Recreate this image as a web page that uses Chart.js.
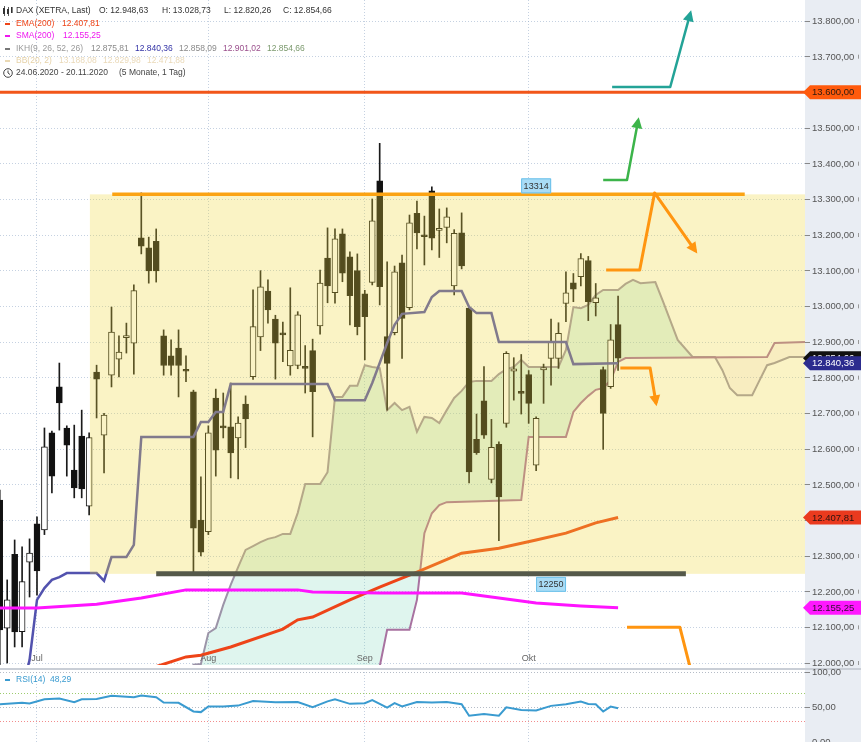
<!DOCTYPE html>
<html>
<head>
<meta charset="utf-8">
<script src="https://cdn.jsdelivr.net/npm/chart.js@4/dist/chart.umd.min.js"></script>
<style>
html, body { margin: 0; padding: 0; background: #fff; }
#wrap { position: relative; width: 861px; height: 742px; overflow: hidden; }
#main { position: absolute; left: 0; top: 0; }
#rsi { position: absolute; left: 0; top: 668px; }
</style>
</head>
<body>
<div id="wrap">
  <canvas id="main" width="861" height="668"></canvas>
  <canvas id="rsi" width="861" height="74"></canvas>
</div>
<script>
// DAX daily candles, 24.06.2020 (index 0) .. 19.10.2020 (index 83)
var openP  = [12457,12098,12305,12088,12283,12390,12373,12645,12774,12659,12541,12636,12440,12816,12639,12807,12852,12912,12897,13192,13164,13182,12917,12861,12883,12822,12760,12401,12368,12743,12665,12662,12631,12726,12803,12914,13043,12964,12925,12833,12834,12830,12876,12945,13135,13038,13203,13139,13100,13035,13067,13352,12915,12926,13122,12996,13261,13200,13324,13213,13221,13057,13206,12995,12627,12735,12515,12613,12672,12818,12760,12809,12555,12822,12854,12854,13008,13066,13083,13128,13010,12823,12775,12948.63];
var highP  = [12485,12233,12345,12326,12348,12410,12659,12650,12841,12665,12667,12709,12645,12835,12700,12998,12917,12953,13060,13318,13194,13217,12934,12906,12934,12861,12765,12522,12665,12768,12757,12785,12690,12749,13046,13100,13074,12975,12956,13052,12985,12890,12908,13102,13220,13217,13217,13153,13147,13045,13301,13457,13125,13113,13144,13256,13295,13253,13335,13273,13276,13215,13262,13000,12698,12831,12683,12620,12873,12856,12865,12820,12690,12838,12964,12954,13097,13092,13148,13140,13064,12830,12949,13028.73];
var lowP   = [11994,12000,12045,12045,12185,12190,12360,12477,12653,12524,12463,12463,12415,12687,12533,12774,12802,12869,12810,13147,13065,13068,12807,12807,12746,12789,12256,12300,12360,12524,12631,12519,12516,12604,12795,12876,12953,12796,12845,12807,12825,12757,12634,12922,13010,13009,13069,12948,12920,12850,13060,13004,12709,12920,12854,12990,13161,13116,13158,13137,13178,13032,13105,12505,12585,12630,12505,12343,12661,12737,12698,12672,12539,12728,12779,12826,12957,13013,13057,12960,12973,12599,12770,12820.26];
var closeP = [12093,12177,12087,12228,12308,12258,12606,12524,12729,12611,12491,12488,12632,12796,12695,12928,12872,12918,13044,13169,13099,13099,12834,12834,12834,12818,12378,12311,12645,12597,12659,12589,12673,12684,12943,13055,12990,12897,12920,12877,12976,12826,12761,13065,13057,13189,13093,13030,12943,12971,13240,13055,12840,13097,12966,13234,13206,13195,13191,13218,13251,13205,13113,12536,12590,12639,12605,12466,12868,12825,12756,12728,12686,12828,12901,12924,13038,13048,13134,13013,13024,12700,12906,12854.66];

var monthLabels = ['Jul', 'Aug', 'Sep', 'Okt'];
var monthIdx = [5, 28, 49, 71];
var priceTicks = [12000,12100,12200,12300,12400,12500,12600,12700,12800,12900,13000,13100,13200,13300,13400,13500,13600,13700,13800];

// indicator vertices: [candle index, value]
var ema200 = [[21,11990],[25,12017],[27,12022],[31,12045],[38,12095],[40,12121],[42,12129],[47,12177],[51,12213],[56,12255],[62,12308],[67,12322],[72,12345],[76,12364],[80,12393],[83,12407.81]];
var sma200 = [[0,12154],[5,12154],[13,12165],[19,12182],[25,12205],[40,12205],[42,12199],[51,12196],[62,12196],[67,12182],[72,12168],[78,12160],[83,12155.25]];
var kijun = [[3,11925],[4,12008],[5,12177],[6,12210],[7,12233],[8,12241],[9,12252],[13,12252],[14,12230],[15,12297],[17,12297],[18,12331],[19,12634],[26,12634],[27,12676],[28,12676],[29,12704],[30,12704],[31,12782],[44,12782],[45,12737],[49,12737],[50,12785],[51,12841],[52,12897],[53,12948],[54,12979],[57,12984],[58,13026],[59,13043],[62,13043],[63,12998],[64,12981],[66,12981],[67,12900],[76,12900],[77,12838],[83,12840.36]];
var senkouA = [[25,11960],[26,11995],[27,11997],[28,12084],[29,12098],[30,12163],[31,12219],[32,12269],[33,12317],[34,12328],[35,12339],[36,12348],[37,12353],[38,12362],[39,12362],[40,12421],[41,12502],[43,12502],[44,12535],[45,12746],[46,12746],[47,12777],[48,12777],[49,12835],[50,12830],[51,12827],[52,12709],[53,12729],[54,12709],[55,12718],[56,12648],[57,12690],[58,12687],[59,12673],[60,12709],[61,12743],[62,12763],[63,12788],[64,12791],[66,12791],[67,12810],[68,12824],[69,12830],[70,12850],[71,12830],[75,12830],[76,12878],[77,12998],[78,12995],[79,13004],[80,13032],[81,13046],[83,13046],[84,13063],[85,13074],[86,13065],[88,13068],[89,13015],[91,12906],[93,12858],[96,12858],[97,12821],[98,12771],[99,12751],[101,12751],[102,12793],[103,12835],[104,12841],[106,12858],[109,12858.09]];
var senkouB = [[25,11700],[50,11700],[51,11990],[52,12093],[55,12093],[56,12177],[57,12364],[58,12420],[59,12443],[60,12451],[70,12457],[71,12634],[76,12634],[77,12704],[78,12729],[79,12749],[80,12766],[81,12771],[82,12793],[83,12844],[84,12855],[103,12858],[104,12897],[109,12901.02]];
var tenkanLast = 12875.81;
var bbLast = [13188.08, 12829.98, 12471.88];
var rsi14 = [[0,54],[3,56],[4,55],[6,61],[8,62],[10,57],[11,61],[13,61.5],[15,66],[18,64],[19,66.5],[21,64],[22,56.5],[24,56],[26,43.6],[27,42.7],[28,50.8],[30,50.8],[32,52],[34,58.6],[37,56.7],[40,57],[42,49.6],[44,58],[45,61],[47,54.5],[49,55.4],[50,60],[52,49],[53,55.5],[54,50.8],[56,57],[58,56.5],[60,57],[62,54],[63,37.6],[65,40],[67,37.6],[68,49.6],[70,45.8],[72,45],[74,51.6],[76,54],[78,57.7],[79,54.4],[80,54],[81,43.6],[82,50.6],[83,48.29]];

// drawn annotations (index, price)
var rangeBox = { from: 12.1, lo: 12250, hi: 13314 };
var lineTop = { price: 13600 };
var lineRes = { price: 13314, from: 15.1, to: 100 };
var lineSup = { price: 12250, from: 21, to: 92.1 };
var arrowTeal = [[82.2,13615],[90,13615],[92.7,13822]];
var arrowGreen = [[81,13354],[84.2,13354],[85.7,13522]];
var arrowDown1 = [[81.4,13102],[85.9,13102],[87.9,13318],[93.4,13155]];
var arrowDown2 = [[83.3,12827],[87.3,12827],[88.1,12728]];
var arrowDown3 = [[84.2,12100],[91.3,12100],[92.7,11985]];

var X_MIN = 0.034, X_MAX = 108.09;
var Y_MIN = 11994.4, Y_MAX = 13858.9;
var FONT = '"Liberation Sans", Arial, sans-serif';

function de(v) {
  var s = v.toFixed(2).split('.');
  return s[0].replace(/\B(?=(\d{3})+(?!\d))/g, '.') + ',' + s[1];
}
function pts(a) { return a.map(function (p) { return { x: p[0], y: p[1] }; }); }

var idx = openP.map(function (_, i) { return i; });
var wickData = idx.map(function (i) { return { x: i, y: [lowP[i], highP[i]] }; });
var bodyData = idx.map(function (i) { return { x: i, y: [openP[i], closeP[i]] }; });
var bodyFill = idx.map(function (i) { return closeP[i] < openP[i] ? '#111' : '#fff'; });
var last = openP.length - 1;

function xScaleOpts() {
  return {
    type: 'linear', min: X_MIN, max: X_MAX, offset: false,
    afterBuildTicks: function (s) { s.ticks = monthIdx.map(function (v) { return { value: v }; }); },
    ticks: { display: false },
    grid: { color: 'rgba(150,172,200,0.55)', drawTicks: false, offset: false },
    border: { display: false, dash: [1, 2] }
  };
}

function tag(c, x0, y, w, text, bg, fg) {
  c.beginPath();
  c.moveTo(x0 - 2, y);
  c.lineTo(x0 + 5, y - 7);
  c.lineTo(x0 + w, y - 7);
  c.lineTo(x0 + w, y + 7);
  c.lineTo(x0 + 5, y + 7);
  c.closePath();
  c.fillStyle = bg; c.fill();
  c.fillStyle = fg;
  c.fillText(text, x0 + 7, y + 0.5);
}

var mainDeco = {
  id: 'mainDeco',
  beforeDraw: function (chart) {
    var c = chart.ctx, a = chart.chartArea;
    c.save();
    c.fillStyle = '#fff'; c.fillRect(0, 0, chart.width, chart.height);
    c.fillStyle = '#e9edf3'; c.fillRect(a.right, 0, chart.width - a.right, chart.height);
    c.restore();
  },
  afterDatasetsDraw: function (chart) {
    var c = chart.ctx, a = chart.chartArea, xs = chart.scales.x, ys = chart.scales.y;
    var X = function (v) { return xs.getPixelForValue(v); };
    var Y = function (v) { return ys.getPixelForValue(v); };
    c.save();
    c.beginPath(); c.rect(a.left, a.top, a.right - a.left, a.bottom - a.top); c.clip();

    // yellow range box over the candles
    c.fillStyle = 'rgba(238,214,62,0.3)';
    c.fillRect(X(rangeBox.from), Y(rangeBox.hi), a.right - X(rangeBox.from), Y(rangeBox.lo) - Y(rangeBox.hi));

    // horizontal levels
    c.lineCap = 'butt';
    c.strokeStyle = '#f2561a'; c.lineWidth = 3;
    c.beginPath(); c.moveTo(a.left, Y(lineTop.price)); c.lineTo(a.right, Y(lineTop.price)); c.stroke();
    c.strokeStyle = '#fba313'; c.lineWidth = 3.5;
    c.beginPath(); c.moveTo(X(lineRes.from), Y(lineRes.price)); c.lineTo(X(lineRes.to), Y(lineRes.price)); c.stroke();
    c.strokeStyle = '#55594a'; c.lineWidth = 5;
    c.beginPath(); c.moveTo(X(lineSup.from), Y(lineSup.price)); c.lineTo(X(lineSup.to), Y(lineSup.price)); c.stroke();

    // arrows
    function arrow(p, col, w, head) {
      c.strokeStyle = col; c.fillStyle = col; c.lineWidth = w; c.lineJoin = 'round';
      c.beginPath();
      p.forEach(function (q, i) { if (i) c.lineTo(X(q[0]), Y(q[1])); else c.moveTo(X(q[0]), Y(q[1])); });
      c.stroke();
      if (head) {
        var n = p.length, x1 = X(p[n - 1][0]), y1 = Y(p[n - 1][1]), x0 = X(p[n - 2][0]), y0 = Y(p[n - 2][1]);
        var ang = Math.atan2(y1 - y0, x1 - x0), L = 11, H = 5.5;
        var tx = x1 + Math.cos(ang) * 3, ty = y1 + Math.sin(ang) * 3;
        c.beginPath();
        c.moveTo(tx, ty);
        c.lineTo(tx - L * Math.cos(ang) + H * Math.sin(ang), ty - L * Math.sin(ang) - H * Math.cos(ang));
        c.lineTo(tx - L * Math.cos(ang) - H * Math.sin(ang), ty - L * Math.sin(ang) + H * Math.cos(ang));
        c.closePath(); c.fill();
      }
    }
    arrow(arrowTeal, '#23a397', 2.5, true);
    arrow(arrowGreen, '#3cb44a', 2.5, true);
    arrow(arrowDown1, '#ff9510', 3, true);
    arrow(arrowDown2, '#ff9510', 3, true);
    arrow(arrowDown3, '#ff9510', 3, false);

    // level value boxes
    c.font = '9px ' + FONT; c.textAlign = 'center'; c.textBaseline = 'middle';
    function valBox(txt, cx, top) {
      c.fillStyle = '#a9dcf6'; c.fillRect(cx - 15, top, 30, 15);
      c.strokeStyle = '#6cc1ea'; c.lineWidth = 1; c.strokeRect(cx - 14.5, top + 0.5, 29, 14);
      c.fillStyle = '#333'; c.fillText(txt, cx, top + 8);
    }
    valBox(String(lineRes.price), X(72), Y(lineRes.price) - 16);
    valBox(String(lineSup.price), X(74), Y(lineSup.price) + 3);
    c.restore();
  },
  afterDraw: function (chart) {
    var c = chart.ctx, a = chart.chartArea, xs = chart.scales.x, ys = chart.scales.y;
    c.save();
    // right axis labels
    c.font = '9.5px ' + FONT; c.textAlign = 'left'; c.textBaseline = 'middle';
    priceTicks.forEach(function (v) {
      var y = ys.getPixelForValue(v);
      c.fillStyle = '#555'; c.fillText(de(v), a.right + 7, y + 0.5);
      c.fillStyle = '#999'; c.fillRect(chart.width - 3, y - 2, 1, 4);
    });
    // value tags
    var w = chart.width - a.right;
    tag(c, a.right, ys.getPixelForValue(lineTop.price), w, de(lineTop.price), '#ff5a0c', '#2a1a10');
    tag(c, a.right, ys.getPixelForValue(ema200[ema200.length - 1][1]), w, de(ema200[ema200.length - 1][1]), '#ea3a1e', '#2a1210');
    tag(c, a.right, ys.getPixelForValue(sma200[sma200.length - 1][1]), w, de(sma200[sma200.length - 1][1]), '#ff18ff', '#301030');
    tag(c, a.right, ys.getPixelForValue(closeP[last]), w, de(closeP[last]), '#111', '#fff');
    tag(c, a.right, ys.getPixelForValue(kijun[kijun.length - 1][1]), w, de(kijun[kijun.length - 1][1]), '#2c2c8e', '#fff');

    // month labels
    c.font = '9px ' + FONT; c.textAlign = 'center'; c.fillStyle = '#666';
    monthLabels.forEach(function (m, i) { c.fillText(m, xs.getPixelForValue(monthIdx[i]), a.bottom - 6); });

    // legend block
    c.font = '8.5px ' + FONT; c.textAlign = 'left'; c.textBaseline = 'middle';
    function t(s, x, y, col) { c.fillStyle = col; c.fillText(s, x, y); }
    // candle icon
    c.fillStyle = '#333';
    c.fillRect(3, 8, 2, 6); c.fillRect(4, 6, 0.8, 10);
    c.fillRect(7, 9, 2, 5); c.fillRect(8, 7, 0.8, 9);
    c.fillRect(11, 7, 1.6, 6);
    var y1 = 11;
    t('DAX (XETRA, Last)', 16, y1, '#333');
    t('O: ' + de(openP[last]), 99, y1, '#333');
    t('H: ' + de(highP[last]), 162, y1, '#333');
    t('L: ' + de(lowP[last]), 224, y1, '#333');
    t('C: ' + de(closeP[last]), 283, y1, '#333');

    c.fillStyle = '#ee4418'; c.fillRect(5, 23, 5, 2);
    t('EMA(200)', 16, 24, '#ee4418'); t(de(ema200[ema200.length - 1][1]), 62, 24, '#ee4418');
    c.fillStyle = '#ee18ee'; c.fillRect(5, 35, 5, 2);
    t('SMA(200)', 16, 36, '#ee18ee'); t(de(sma200[sma200.length - 1][1]), 63, 36, '#ee18ee');
    c.fillStyle = '#777'; c.fillRect(5, 48, 5, 2);
    t('IKH(9, 26, 52, 26)', 16, 49, '#999');
    t(de(tenkanLast), 91, 49, '#8a8a8a');
    t(de(kijun[kijun.length - 1][1]), 135, 49, '#3333a6');
    t(de(senkouA[senkouA.length - 1][1]), 179, 49, '#8a8a8a');
    t(de(senkouB[senkouB.length - 1][1]), 223, 49, '#9a4f8c');
    t(de(closeP[last]), 267, 49, '#7c9a6e');
    c.fillStyle = '#ead9b4'; c.fillRect(5, 60, 5, 2);
    t('BB(20, 2)', 16, 61, '#e6d2a8');
    t(de(bbLast[0]), 59, 61, '#ead9b8'); t(de(bbLast[1]), 103, 61, '#ead9b8'); t(de(bbLast[2]), 147, 61, '#ead9b8');
    // clock icon
    c.strokeStyle = '#444'; c.lineWidth = 1;
    c.beginPath(); c.arc(8, 73, 4.3, 0, Math.PI * 2); c.stroke();
    c.beginPath(); c.moveTo(8, 70.5); c.lineTo(8, 73); c.lineTo(10, 74.5); c.stroke();
    t('24.06.2020 - 20.11.2020', 16, 73, '#444');
    t('(5 Monate, 1 Tag)', 119, 73, '#444');
    c.restore();
  }
};

new Chart(document.getElementById('main'), {
  type: 'line',
  data: {
    datasets: [
      { label: 'Senkou A', data: pts(senkouA), borderColor: '#9c94a8', borderWidth: 2, pointRadius: 0,
        fill: { target: '+1', above: 'rgba(120,215,185,0.24)', below: 'rgba(235,170,185,0.1)' }, order: 6 },
      { label: 'Senkou B', data: pts(senkouB), borderColor: '#a872a0', borderWidth: 2, pointRadius: 0, fill: false, order: 5 },
      { label: 'Kijun', data: pts(kijun), borderColor: '#5252ae', borderWidth: 2.5, pointRadius: 0, fill: false, order: 2 },
      { type: 'bar', label: 'wick', data: wickData, backgroundColor: '#1a1a1a', barThickness: 1, grouped: false, order: 4 },
      { type: 'bar', label: 'body', data: bodyData, backgroundColor: bodyFill, borderColor: '#151515', borderWidth: 1,
        borderSkipped: false, barThickness: 6, grouped: false, minBarLength: 2, order: 3 },
      { label: 'EMA(200)', data: pts(ema200), borderColor: '#ee4418', borderWidth: 3, pointRadius: 0, fill: false, order: 1 },
      { label: 'SMA(200)', data: pts(sma200), borderColor: '#ff14ff', borderWidth: 3, pointRadius: 0, fill: false, order: 0 }
    ]
  },
  options: {
    responsive: false, animation: false, devicePixelRatio: 1,
    layout: { padding: { top: 0, bottom: 3, left: 0, right: 0 } },
    plugins: { legend: { display: false }, tooltip: { enabled: false } },
    scales: {
      x: xScaleOpts(),
      y: {
        type: 'linear', position: 'right', min: Y_MIN, max: Y_MAX,
        afterBuildTicks: function (s) { s.ticks = priceTicks.map(function (v) { return { value: v }; }); },
        afterFit: function (s) { s.width = 56; },
        ticks: { display: false },
        grid: { color: 'rgba(150,172,200,0.55)', drawTicks: true, tickLength: 5, tickColor: '#888', tickBorderDash: [] },
        border: { display: false, dash: [1, 2] }
      }
    }
  },
  plugins: [mainDeco]
});

var rsiLevels = [0, 30, 50, 70, 100];
var rsiDeco = {
  id: 'rsiDeco',
  beforeDraw: function (chart) {
    var c = chart.ctx, a = chart.chartArea;
    c.save();
    c.fillStyle = '#fff'; c.fillRect(0, 0, chart.width, chart.height);
    c.fillStyle = '#e9edf3'; c.fillRect(a.right, 0, chart.width - a.right, chart.height);
    c.fillStyle = '#c9ced6'; c.fillRect(0, 0, chart.width, 2);
    c.restore();
  },
  afterDraw: function (chart) {
    var c = chart.ctx, a = chart.chartArea, ys = chart.scales.y;
    c.save();
    c.font = '9.5px ' + FONT; c.textAlign = 'left'; c.textBaseline = 'middle'; c.fillStyle = '#555';
    [100, 50, 0].forEach(function (v) { c.fillText(de(v), a.right + 7, ys.getPixelForValue(v) + 0.5); });
    c.font = '8.5px ' + FONT;
    c.fillStyle = '#3a9bd0'; c.fillRect(5, 11, 5, 2);
    c.fillText('RSI(14)', 16, 12);
    c.fillText(rsi14[rsi14.length - 1][1].toFixed(2).replace('.', ','), 50, 12);
    c.restore();
  }
};

new Chart(document.getElementById('rsi'), {
  type: 'line',
  data: { datasets: [{ label: 'RSI(14)', data: pts(rsi14), borderColor: '#3a9bd0', borderWidth: 2, pointRadius: 0, fill: false }] },
  options: {
    responsive: false, animation: false, devicePixelRatio: 1,
    layout: { padding: { top: 4, bottom: 0, left: 0, right: 0 } },
    plugins: { legend: { display: false }, tooltip: { enabled: false } },
    scales: {
      x: xScaleOpts(),
      y: {
        type: 'linear', position: 'right', min: 0, max: 100,
        afterBuildTicks: function (s) { s.ticks = rsiLevels.map(function (v) { return { value: v }; }); },
        afterFit: function (s) { s.width = 56; },
        ticks: { display: false },
        grid: {
          color: function (ctx) {
            var v = ctx.tick && ctx.tick.value;
            if (v === 70) return '#9ccc6c';
            if (v === 30) return '#f28c8c';
            return 'rgba(150,160,175,0.7)';
          },
          drawTicks: true, tickLength: 5,
          tickColor: function (ctx) { var v = ctx.tick && ctx.tick.value; return (v === 30 || v === 70) ? 'rgba(0,0,0,0)' : '#888'; },
          tickBorderDash: []
        },
        border: { display: false, dash: [1, 2] }
      }
    }
  },
  plugins: [rsiDeco]
});
</script>
</body>
</html>
